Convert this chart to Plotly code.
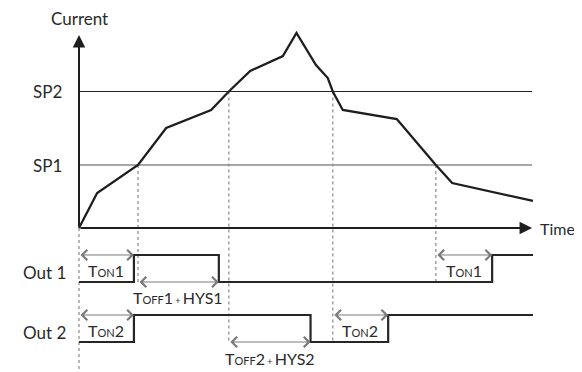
import plotly.graph_objects as go

# ---------------- data ----------------
time_pts = [0, 4, 13, 19.2, 29.1, 33, 37.7, 44.9, 47.9, 52.2, 54.8, 55.9, 58.1, 70, 78.6, 82.2, 100]
current_pts = [0, 1.67, 3.0, 4.76, 5.62, 6.5, 7.48, 8.19, 9.29, 7.76, 7.14, 6.5, 5.62, 5.19, 3.0, 2.14, 1.29]

SP1 = 3.0
SP2 = 6.5

# threshold crossing instants
t_cross = [0, 13, 33, 55.9, 78.6]
cross_level = [0, SP1, SP2, SP2, SP1]
cross_lane = ["bottom", "out1", "out2", "out2", "out1"]

# output switching (time, state)
out1_t = [0, 12.1, 30.8, 91.0, 100]
out1_s = [0, 1, 0, 1, 1]
out2_t = [0, 12.1, 51.0, 68.1, 100]
out2_s = [0, 1, 0, 1, 1]

SM = "<span style='font-size:11px'>{}</span>"
PL = "<span style='font-size:9px'> + </span>"
# timing intervals: (start, end, lane, level state, label, label position)
intervals = [
    (0, 12.1, "out1", 1, "T" + SM.format("ON") + "1", "in"),
    (13, 30.8, "out1", 0, "T" + SM.format("OFF") + "1" + PL + "HYS1", "below"),
    (78.6, 91.0, "out1", 1, "T" + SM.format("ON") + "1", "in"),
    (0, 12.1, "out2", 1, "T" + SM.format("ON") + "2", "in"),
    (33, 51.0, "out2", 0, "T" + SM.format("OFF") + "2" + PL + "HYS2", "below"),
    (55.9, 68.1, "out2", 1, "T" + SM.format("ON") + "2", "in"),
]

# ---------------- layout constants ----------------
PAGE_W, PAGE_H = 582, 372
BODY = 8            # default page body margin
W, H = PAGE_W - 2 * BODY, PAGE_H - BODY
X0_PX = 79          # time origin (page px)
PX_T = 4.54         # px per time unit
Y0_PX = 228         # current origin (page px)
PX_I = 21           # px per current unit
T_END = 99.8
I_TIP = 9.19

lane_base = {"out1": -2.571, "out2": -5.429}
lane_amp = 1.286
y_bottom = -(PAGE_H - Y0_PX) / PX_I

xr = [-(X0_PX - BODY) / PX_T, (PAGE_W - BODY - X0_PX) / PX_T]
yr = [y_bottom, (Y0_PX - BODY) / PX_I]

FONT = "Lato"
TXT = "#2a2a2a"
FS = 17
FL = 16

fig = go.Figure()

# dashed guides
for t, lv, ln in zip(t_cross, cross_level, cross_lane):
    yb = y_bottom if ln == "bottom" else lane_base[ln]
    fig.add_trace(go.Scatter(x=[t, t], y=[lv, yb], mode="lines",
                             line=dict(color="#9a9a9a", width=1.4, dash="dot"),
                             hoverinfo="skip", showlegend=False, cliponaxis=False))

# setpoint lines
fig.add_trace(go.Scatter(x=[0, T_END], y=[SP2, SP2], mode="lines",
                         line=dict(color="#222222", width=1.1), hoverinfo="skip", showlegend=False))
fig.add_trace(go.Scatter(x=[0, T_END], y=[SP1, SP1], mode="lines",
                         line=dict(color="#8a8a8a", width=1.6), hoverinfo="skip", showlegend=False))

# current curve
fig.add_trace(go.Scatter(x=time_pts, y=current_pts, mode="lines",
                         line=dict(color="#1e1e1e", width=2.3), hoverinfo="skip", showlegend=False))

# outputs
for ts, ss, ln in [(out1_t, out1_s, "out1"), (out2_t, out2_s, "out2")]:
    fig.add_trace(go.Scatter(x=ts, y=[lane_base[ln] + s * lane_amp for s in ss], mode="lines",
                             line=dict(color="#262626", width=2.2, shape="hv"),
                             hoverinfo="skip", showlegend=False))

ann = []
# axes with arrows
ann.append(dict(x=0, y=I_TIP, ax=0, ay=0, xref="x", yref="y", axref="x", ayref="y",
                showarrow=True, arrowhead=2, arrowsize=1.25, arrowwidth=2, arrowcolor="#1e1e1e",
                text="", standoff=0))
ann.append(dict(x=T_END, y=0, ax=0, ay=0, xref="x", yref="y", axref="x", ayref="y",
                showarrow=True, arrowhead=2, arrowsize=1.25, arrowwidth=2, arrowcolor="#1e1e1e",
                text="", standoff=0))

# double arrows + labels
for s, e, ln, st, lab, pos in intervals:
    yv = lane_base[ln] + st * lane_amp
    ann.append(dict(x=e, y=yv, ax=s, ay=yv, xref="x", yref="y", axref="x", ayref="y",
                    showarrow=True, arrowside="end+start", arrowhead=4, startarrowhead=4,
                    arrowsize=2.0, startarrowsize=2.0, arrowwidth=1, arrowcolor="#7a7a7a",
                    text="", standoff=0, startstandoff=0))
    if pos == "in":
        ann.append(dict(x=(s + e) / 2, y=lane_base[ln] + 0.42 * lane_amp, xref="x", yref="y",
                        text=lab, showarrow=False, font=dict(family=FONT, size=FL, color=TXT)))
    else:
        ann.append(dict(x=(s + e) / 2, y=lane_base[ln], yshift=-16, xref="x", yref="y",
                        text=lab, showarrow=False, font=dict(family=FONT, size=FL, color=TXT)))

# lane labels
for ln, txt in [("out1", "Out 1"), ("out2", "Out 2")]:
    ann.append(dict(x=0, y=lane_base[ln] + 0.35 * lane_amp, xref="x", yref="y", xshift=-11,
                    xanchor="right", text=txt, showarrow=False,
                    font=dict(family=FONT, size=FS, color=TXT)))

# setpoint labels
for v, txt in [(SP2, "SP2"), (SP1, "SP1")]:
    ann.append(dict(x=0, y=v, xref="x", yref="y", xshift=-15, xanchor="right", text=txt,
                    showarrow=False, font=dict(family=FONT, size=FS, color=TXT)))

# axis titles
ann.append(dict(x=0, y=I_TIP, yshift=4, xref="x", yref="y", yanchor="bottom", text="Current",
                showarrow=False, font=dict(family=FONT, size=FS, color=TXT)))
ann.append(dict(x=T_END, y=0, xshift=6, xref="x", yref="y", xanchor="left", text="Time",
                showarrow=False, font=dict(family=FONT, size=16, color=TXT)))

fig.update_layout(
    width=W, height=H, margin=dict(l=0, r=0, t=0, b=0),
    paper_bgcolor="white", plot_bgcolor="white",
    xaxis=dict(range=xr, visible=False, fixedrange=True),
    yaxis=dict(range=yr, visible=False, fixedrange=True),
    annotations=ann, showlegend=False,
)

fig.write_html("out.html")
